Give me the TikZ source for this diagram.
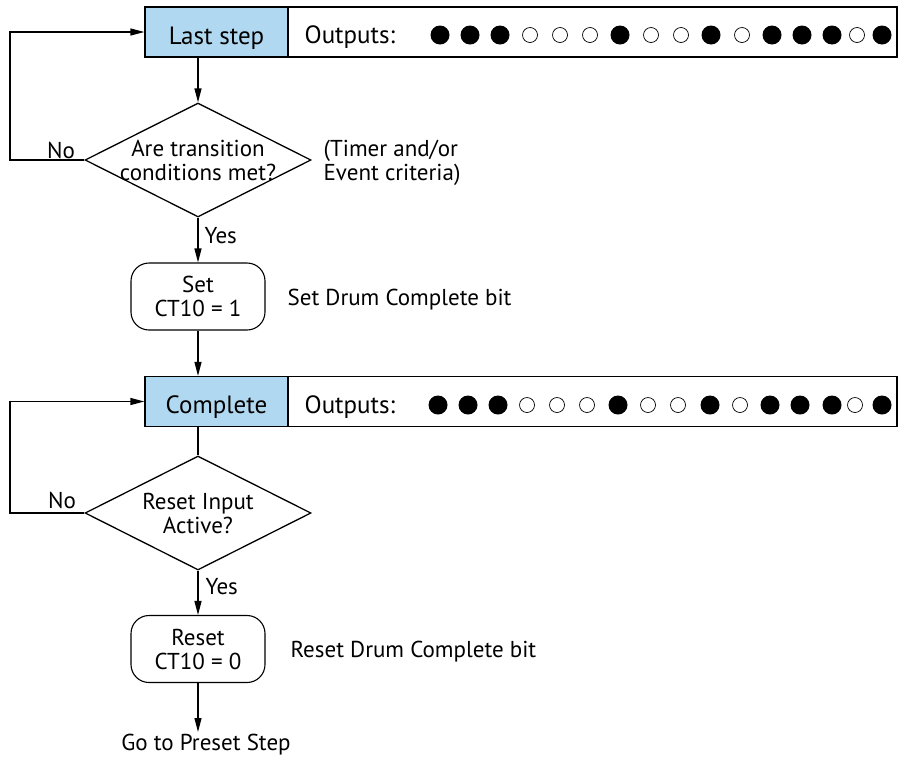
\documentclass[tikz,border=0pt]{standalone}
\usepackage{fontspec}
\setmainfont{PT Sans}
\usetikzlibrary{shapes.geometric,arrows.meta}
\definecolor{stepblue}{RGB}{176,216,240}

\begin{document}
\begin{tikzpicture}[x=1pt, y=-1pt, line width=1.3pt, font=\fontsize{23}{24}\selectfont,
    stepbox/.style={draw, rectangle, fill=stepblue, minimum width=143pt, minimum height=50pt, inner sep=0pt, text height=24pt, text depth=0pt, font=\fontsize{25}{26}\selectfont},
    outbox/.style={draw, rectangle, minimum width=609pt, minimum height=50pt, inner sep=0pt},
    decision/.style={draw, diamond, aspect=2, minimum width=226pt, minimum height=114pt, inner sep=-10pt, align=center},
    action/.style={draw, rectangle, rounded corners=18pt, minimum width=134pt, minimum height=67pt, inner sep=0pt, align=center, line width=1.1pt},
    note/.style={inner sep=0pt, align=left},
    dotfull/.style={circle, fill=black, minimum size=19pt, inner sep=0pt},
    dotempty/.style={circle, draw, line width=0.7pt, minimum size=15pt, inner sep=0pt},
    flow/.style={-{Triangle[length=14pt,width=7pt]}}]
    \useasboundingbox (0,0) rectangle (901,756);

    % Last step bar
    \node[outbox] (out-1) at (592.5,32) {};
    \node[stepbox] (step-1) at (216.5,32) {Last step};
    \node[note, anchor=base west, font=\fontsize{25}{26}\selectfont] (outlbl-1) at (304,43) {Outputs:};
    \node[dotfull] (dot-1-1) at (440,35) {};
    \node[dotfull] (dot-1-2) at (470,35) {};
    \node[dotfull] (dot-1-3) at (500,35) {};
    \node[dotempty] (dot-1-4) at (530,35) {};
    \node[dotempty] (dot-1-5) at (560,35) {};
    \node[dotempty] (dot-1-6) at (590,35) {};
    \node[dotfull] (dot-1-7) at (620,35) {};
    \node[dotempty] (dot-1-8) at (651,35) {};
    \node[dotempty] (dot-1-9) at (681,35) {};
    \node[dotfull] (dot-1-10) at (711,35) {};
    \node[dotempty] (dot-1-11) at (742,35) {};
    \node[dotfull] (dot-1-12) at (772,35) {};
    \node[dotfull] (dot-1-13) at (802,35) {};
    \node[dotfull] (dot-1-14) at (832,35) {};
    \node[dotempty] (dot-1-15) at (857,35) {};
    \node[dotfull] (dot-1-16) at (882,35) {};

    % First decision
    \node[decision] (dec-1) at (198,160) {Are transition\\conditions met?};
    \node[note, anchor=west] (crit) at (323,163) {(Timer and/or\\Event criteria)};
    \node[note] (no-1) at (61,150) {No};
    \node[note, anchor=west] (yes-1) at (204,236) {Yes};
    \coordinate (loop-1) at (10,160);

    \node[action] (set) at (198,296.5) {Set\\CT10 = 1};
    \node[note, anchor=west] (setnote) at (287,300) {Set Drum Complete bit};

    % Complete bar
    \node[outbox] (out-2) at (592.5,401.5) {};
    \node[stepbox] (step-2) at (216.5,401.5) {Complete};
    \node[note, anchor=base west, font=\fontsize{25}{26}\selectfont] (outlbl-2) at (304,413) {Outputs:};
    \node[dotfull] (dot-2-1) at (438,405) {};
    \node[dotfull] (dot-2-2) at (468,405) {};
    \node[dotfull] (dot-2-3) at (498,405) {};
    \node[dotempty] (dot-2-4) at (527,405) {};
    \node[dotempty] (dot-2-5) at (557,405) {};
    \node[dotempty] (dot-2-6) at (587,405) {};
    \node[dotfull] (dot-2-7) at (618,405) {};
    \node[dotempty] (dot-2-8) at (648,405) {};
    \node[dotempty] (dot-2-9) at (678,405) {};
    \node[dotfull] (dot-2-10) at (710,405) {};
    \node[dotempty] (dot-2-11) at (740,405) {};
    \node[dotfull] (dot-2-12) at (770,405) {};
    \node[dotfull] (dot-2-13) at (800,405) {};
    \node[dotfull] (dot-2-14) at (832,405) {};
    \node[dotempty] (dot-2-15) at (855,405) {};
    \node[dotfull] (dot-2-16) at (882,405) {};

    % Second decision
    \node[decision] (dec-2) at (198,513) {Reset Input\\Active?};
    \node[note] (no-2) at (62,500) {No};
    \node[note, anchor=west] (yes-2) at (205,587) {Yes};
    \coordinate (loop-2) at (10,513);

    \node[action] (reset) at (198,649) {Reset\\CT10 = 0};
    \node[note, anchor=west] (resetnote) at (290,652) {Reset Drum Complete bit};
    \node[inner sep=1pt, anchor=north] (goto) at (206,732) {Go to Preset Step};

    % Connectors
    \draw[flow] (dec-1.north |- step-1.south) -- (dec-1.north);
    \draw[flow] (dec-1.west) -- (loop-1) |- (step-1.west);
    \draw[flow] (dec-1.south) -- (set.north);
    \draw[flow] (set.south) -- (set.south |- step-2.north);
    \draw (dec-2.north |- step-2.south) -- (dec-2.north);
    \draw[flow] (dec-2.west) -- (loop-2) |- (step-2.west);
    \draw[flow] (dec-2.south) -- (reset.north);
    \draw[flow] (reset.south) -- (reset.south |- goto.north);
\end{tikzpicture}
\end{document}
